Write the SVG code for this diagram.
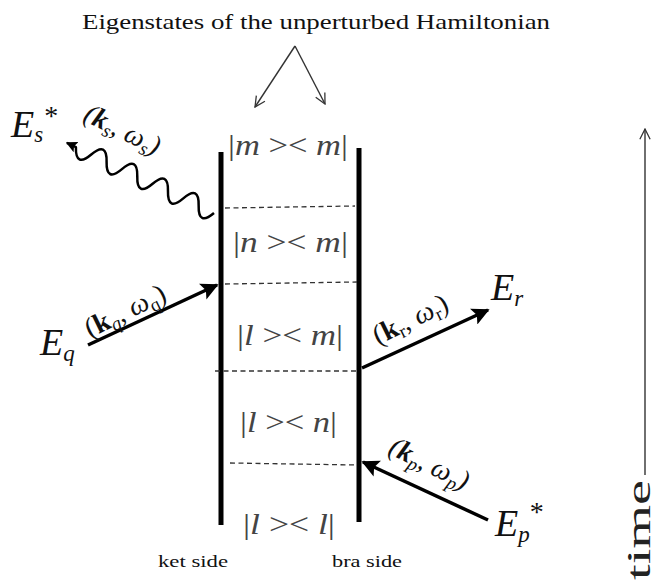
<svg xmlns="http://www.w3.org/2000/svg" width="656" height="587" viewBox="0 0 656 587">
<style>
text{font-family:'Liberation Serif','Times New Roman',Times,serif}
.t{fill:#111}
.bk{font-size:30px;fill:#444}
.it{font-style:italic}
.b{font-weight:bold}
.lbl{fill:#111;font-style:italic}
.thick{stroke:#000;stroke-width:5;fill:none}
.dash{stroke:#333;stroke-width:1.3;stroke-dasharray:5 3.5;fill:none}
.beam{stroke:#000;stroke-width:3.5;fill:none;marker-end:url(#ah)}
.thin{stroke:#333;stroke-width:1.4;fill:none;marker-end:url(#oh)}
</style>
<defs>
<marker id="ah" viewBox="0 0 10 10" refX="9" refY="5" markerWidth="5" markerHeight="5" orient="auto" markerUnits="strokeWidth">
<path d="M0,0 L10,5 L0,10 L2,5 Z" fill="#000"/>
</marker>
<marker id="oh" viewBox="0 0 14 14" refX="13" refY="7" markerWidth="12" markerHeight="12" orient="auto" markerUnits="userSpaceOnUse">
<path d="M1,1 L13,7 L1,13" fill="none" stroke="#333" stroke-width="1.5"/>
</marker>
<marker id="wh" viewBox="0 0 10 10" refX="9" refY="5" markerWidth="4.5" markerHeight="4.5" orient="auto" markerUnits="strokeWidth">
<path d="M0,0 L10,5 L0,10 L2,5 Z" fill="#000"/>
</marker>
</defs>

<g id="title">
<text class="t" x="82" y="29" font-size="21" textLength="468" lengthAdjust="spacingAndGlyphs">Eigenstates of the unperturbed Hamiltonian</text>
</g>

<g id="ket-line"><line class="thick" x1="221" y1="152" x2="221" y2="525"/>
<text class="t" x="158" y="567" font-size="17" textLength="70" lengthAdjust="spacingAndGlyphs">ket side</text></g>
<g id="bra-line"><line class="thick" x1="359" y1="148" x2="359" y2="522"/>
<text class="t" x="332" y="567" font-size="17" textLength="70" lengthAdjust="spacingAndGlyphs">bra side</text></g>

<g id="state-mm"><text class="bk" x="228" y="155" textLength="120" lengthAdjust="spacingAndGlyphs">|<tspan class="it">m</tspan> &gt;&lt; <tspan class="it">m</tspan>|</text></g>
<g id="state-nm"><text class="bk" x="233" y="252" textLength="115" lengthAdjust="spacingAndGlyphs">|<tspan class="it">n</tspan> &gt;&lt; <tspan class="it">m</tspan>|</text></g>
<g id="state-lm"><text class="bk" x="237" y="345" textLength="106" lengthAdjust="spacingAndGlyphs">|<tspan class="it">l</tspan> &gt;&lt; <tspan class="it">m</tspan>|</text></g>
<g id="state-ln"><text class="bk" x="240" y="432" textLength="97" lengthAdjust="spacingAndGlyphs">|<tspan class="it">l</tspan> &gt;&lt; <tspan class="it">n</tspan>|</text></g>
<g id="state-ll"><text class="bk" x="243" y="534" textLength="92" lengthAdjust="spacingAndGlyphs">|<tspan class="it">l</tspan> &gt;&lt; <tspan class="it">l</tspan>|</text></g>

<g id="connectors">
<line class="thin" x1="295" y1="46" x2="255" y2="107"/>
<line class="thin" x1="295" y1="46" x2="325" y2="104"/>
<line class="dash" x1="225" y1="208" x2="355" y2="206"/>
<line class="dash" x1="225" y1="284" x2="357" y2="282"/>
<line class="dash" x1="215" y1="371" x2="357" y2="371"/>
<line class="dash" x1="230" y1="463" x2="357" y2="465"/>
<g transform="translate(214,213) rotate(205.5)">
<path d="M0,0 q8.5,-19 17,0 t17,0 t17,0 t17,0 t17,0 t17,0 t17,0 t17,0 t17,0 l10,0" fill="none" stroke="#000" stroke-width="2.5" stroke-linejoin="round" marker-end="url(#wh)"/>
</g>
<line class="beam" x1="88" y1="345" x2="217" y2="285"/>
<line class="beam" x1="362" y1="368" x2="488" y2="310"/>
<line class="beam" x1="488" y1="520" x2="363" y2="462"/>
<line class="thin" x1="645" y1="475" x2="645" y2="129"/>
</g>

<g id="Es"><text class="lbl" x="11" y="137" font-size="38">E<tspan font-size="23" dy="5">s</tspan><tspan font-style="normal" font-size="28" dx="1" dy="-17">*</tspan></text>
<text class="lbl" font-size="28" transform="translate(82,120) rotate(26)">(<tspan class="b">k</tspan><tspan font-size="19" dy="5">s</tspan><tspan dy="-5" font-style="normal">, </tspan>ω<tspan font-size="19" dy="5">s</tspan><tspan dy="-5">)</tspan></text></g>

<g id="Eq"><text class="lbl" x="40" y="355" font-size="38">E<tspan font-size="23" dy="6">q</tspan></text>
<text class="lbl" font-size="28" transform="translate(90,338) rotate(-26)" style="font-style:normal">(<tspan class="b">k</tspan><tspan font-size="19" dy="5" class="it">q</tspan><tspan dy="-5">, </tspan><tspan class="it">ω</tspan><tspan font-size="19" dy="5">q</tspan><tspan dy="-5">)</tspan></text></g>

<g id="Er"><text class="lbl" x="491" y="300" font-size="38">E<tspan font-size="23" dy="6">r</tspan></text>
<text class="lbl" font-size="28" transform="translate(378,345) rotate(-26)" style="font-style:normal">(<tspan class="b">k</tspan><tspan font-size="19" dy="5">r</tspan><tspan dy="-5">, </tspan><tspan class="it">ω</tspan><tspan font-size="19" dy="5">r</tspan><tspan dy="-5">)</tspan></text></g>

<g id="Ep"><text class="lbl" x="495" y="536" font-size="38">E<tspan font-size="23" dy="6">p</tspan><tspan font-style="normal" font-size="28" dx="0" dy="-21">*</tspan></text>
<text class="lbl" font-size="28" transform="translate(387,453) rotate(26)">(<tspan class="b">k</tspan><tspan font-size="19" dy="5">p</tspan><tspan dy="-5" font-style="normal">, </tspan>ω<tspan font-size="19" dy="5">p</tspan><tspan dy="-5">)</tspan></text></g>

<g id="time"><text fill="#222" transform="translate(650,580) rotate(-90)" font-size="34" textLength="100" lengthAdjust="spacingAndGlyphs">time</text></g>
</svg>
